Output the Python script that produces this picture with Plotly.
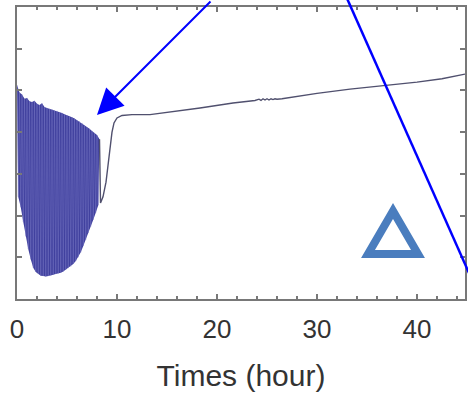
import numpy as np
import plotly.graph_objects as go

# --- oscillating phase (0 - 8.3 h): peaks and troughs ---
peak_t = [0.0, 0.25, 0.5, 0.75, 1.0, 1.25, 1.5, 1.75, 2.0, 2.25, 2.5, 2.75, 3.0, 3.25,
          3.5, 3.75, 4.0, 4.25, 4.5, 4.75, 5.0, 5.25, 5.5, 5.75, 6.0, 6.25, 6.5, 6.75,
          7.0, 7.25, 7.5, 7.75, 8.0, 8.25]
peak_v = [5.13, 4.95, 4.90, 4.80, 4.82, 4.74, 4.72, 4.75, 4.68, 4.65, 4.69, 4.60, 4.58, 4.56,
          4.55, 4.52, 4.51, 4.48, 4.46, 4.43, 4.41, 4.38, 4.36, 4.33, 4.29, 4.26, 4.22, 4.17,
          4.12, 4.08, 4.03, 3.98, 3.93, 3.83]
trough_t = [0.125, 0.375, 0.625, 0.875, 1.125, 1.375, 1.625, 1.875, 2.125, 2.375, 2.625,
            2.875, 3.125, 3.375, 3.625, 3.875, 4.125, 4.375, 4.625, 4.875, 5.125, 5.375,
            5.625, 5.875, 6.125, 6.375, 6.625, 6.875, 7.125, 7.375, 7.625, 7.875, 8.125]
trough_v = [2.45, 2.20, 1.85, 1.50, 1.20, 0.95, 0.75, 0.65, 0.60, 0.56, 0.55,
            0.54, 0.55, 0.56, 0.58, 0.60, 0.61, 0.63, 0.66, 0.70, 0.74, 0.78,
            0.84, 0.91, 1.00, 1.12, 1.27, 1.42, 1.58, 1.74, 1.90, 2.07, 2.25]

# --- recovery and slow drift (8.3 - 44.8 h) ---
drift_t = [8.25, 8.35, 8.6, 8.9, 9.1, 9.3, 9.5, 9.7, 10.0, 10.5, 11.5, 13.3, 15.0, 18.3,
           21.6, 23.8, 24.2, 24.4, 24.6, 24.8, 25.0, 25.2, 25.4, 25.6, 25.8, 26.0, 26.5,
           28.0, 30.0, 33.3, 36.6, 40.0, 42.5, 44.8]
drift_v = [3.83, 2.30, 2.45, 2.80, 3.20, 3.65, 4.00, 4.22, 4.34, 4.40, 4.42, 4.42, 4.47, 4.58,
           4.70, 4.76, 4.79, 4.76, 4.80, 4.77, 4.80, 4.77, 4.80, 4.78, 4.80, 4.79, 4.80,
           4.86, 4.93, 5.03, 5.11, 5.20, 5.28, 5.39]

x_ticks = [0, 10, 20, 30, 40]
x_title = "Times (hour)"

# interleave peaks and troughs into the oscillating signal
osc_t, osc_v = [], []
for i in range(len(peak_t)):
    osc_t.append(peak_t[i]); osc_v.append(peak_v[i])
    if i < len(trough_t):
        osc_t.append(trough_t[i]); osc_v.append(trough_v[i])

fig = go.Figure()
fig.add_trace(go.Scatter(x=trough_t, y=trough_v, mode="lines", line=dict(width=0),
                         showlegend=False, hoverinfo="skip"))
fig.add_trace(go.Scatter(x=peak_t, y=peak_v, mode="lines", line=dict(width=0),
                         fill="tonexty", fillcolor="rgb(64,64,158)",
                         showlegend=False, hoverinfo="skip"))
fig.add_trace(go.Scatter(x=osc_t, y=osc_v, mode="lines",
                         line=dict(color="rgba(125,125,200,0.5)", width=0.8), showlegend=False))
fig.add_trace(go.Scatter(x=drift_t, y=drift_v, mode="lines",
                         line=dict(color="rgb(80,80,110)", width=1.4), showlegend=False))

axcol = "rgb(120,120,120)"
fig.update_xaxes(range=[0, 44.8], tickvals=x_ticks, ticks="inside", ticklen=5,
                 tickcolor=axcol, tickwidth=1.5, automargin=False, ticklabelstandoff=6,
                 minor=dict(dtick=2, ticks="inside", ticklen=3, tickcolor=axcol, showgrid=False),
                 showline=True, linecolor=axcol, linewidth=1.5, mirror="ticks",
                 showgrid=False, zeroline=False,
                 tickfont=dict(family="Liberation Sans, Arial", size=26, color="#333"),
                 title=dict(text=x_title, standoff=22,
                            font=dict(family="Liberation Sans, Arial", size=30, color="#333")))
fig.update_yaxes(range=[0, 7], dtick=1, ticks="inside", ticklen=5, tickcolor=axcol,
                 tickwidth=1.5, showticklabels=False, showline=True, linecolor=axcol,
                 linewidth=1.5, mirror="ticks", showgrid=False, zeroline=False,
                 automargin=False)

# arrow pointing to oscillating phase
fig.add_annotation(x=8.0, y=4.41, xref="x", yref="y", ax=115, ay=-120, showarrow=True,
                   arrowhead=2, arrowsize=2.6, arrowwidth=2, arrowcolor="rgb(0,0,255)", text="")
# second guide line
fig.add_shape(type="line", xref="paper", yref="paper", x0=0.735, y0=1.035, x1=1.011, y1=0.082,
              line=dict(color="rgb(0,0,255)", width=2.5))
# triangle marker
fig.add_shape(type="path", xref="paper", yref="paper",
              path="M 0.8393 0.3014 L 0.7835 0.1541 L 0.8951 0.1541 Z",
              line=dict(color="rgb(74,125,190)", width=8))

fig.update_layout(width=468, height=399, margin=dict(l=17, r=3, t=7, b=100, autoexpand=False),
                  plot_bgcolor="white", paper_bgcolor="white")
fig.write_html("out.html", config={"displayModeBar": False},
               post_script="document.body.style.margin='0px';")
